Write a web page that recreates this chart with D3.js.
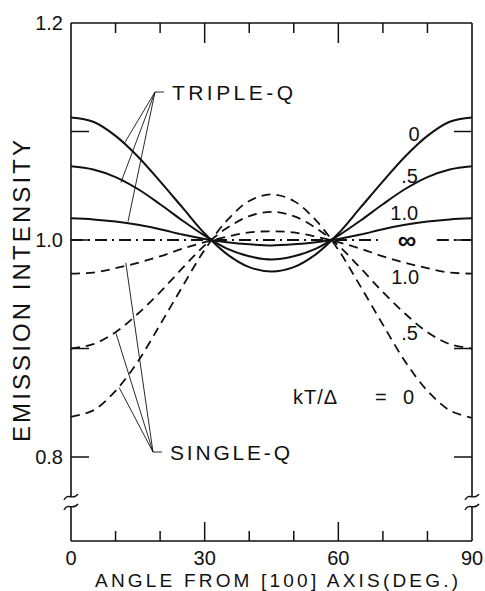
<!DOCTYPE html>
<html><head><meta charset="utf-8">
<script src="https://cdn.jsdelivr.net/npm/d3@7"></script>
<style>body{margin:0;background:#fff}svg{display:block}text{font-family:"Liberation Sans",Arial,sans-serif;fill:#111}</style>
</head><body>
<svg id="c" width="485" height="591"></svg>
<script>
const angles = [0,5,10,15,20,25,30,35,40,45,50,55,60,65,70,75,80,85,90];
const tripleQ0  = [1.113,1.109,1.096,1.077,1.054,1.030,1.006,0.987,0.975,0.971,0.975,0.987,1.006,1.030,1.054,1.077,1.096,1.109,1.113];
const tripleQ05 = [1.068,1.065,1.058,1.047,1.033,1.018,1.004,0.992,0.985,0.982,0.985,0.992,1.004,1.018,1.033,1.047,1.058,1.065,1.068];
const tripleQ10 = [1.020,1.019,1.017,1.014,1.010,1.005,1.001,0.998,0.996,0.995,0.996,0.998,1.001,1.005,1.010,1.014,1.017,1.019,1.020];
const singleQ0  = [0.837,0.843,0.861,0.888,0.922,0.957,0.991,1.018,1.036,1.042,1.036,1.018,0.991,0.957,0.922,0.888,0.861,0.843,0.836];
const singleQ05 = [0.900,0.904,0.915,0.932,0.952,0.974,0.995,1.011,1.022,1.026,1.022,1.011,0.995,0.974,0.952,0.932,0.915,0.904,0.900];
const singleQ10 = [0.969,0.970,0.974,0.979,0.985,0.992,0.998,1.003,1.007,1.008,1.007,1.003,0.998,0.992,0.985,0.979,0.974,0.970,0.969];
const infinitySegments = [[0,69.3],[82.1,90]];
const infinityValue = 1.0;
const xTickLabels = [0,30,60,90];
const xMinorTicks = [10,20,40,50,70,80];
const xMajorTicks = [30,60];
const yTickLabels = [0.8,1.0,1.2];
const yTicks = [0.8,0.9,1.0,1.1];
const yBreak = [0.7539,0.7631];
// curve labels: [angle, value, text]
const curveLabels = [[77.0,1.098,"0"],[76.0,1.059,".5"],[74.8,1.025,"1.0"],[75.4,1.0,"∞"],[75.0,0.9665,"1.0"],[76.0,0.9143,".5"]];
const legendParts = [[293,"kT/Δ",44],[375,"=",null],[403,"0",null]];
const tripleVertex = [18.85,1.1364];
const tripleTargets = [[12.1,1.090],[11.2,1.053],[12.8,1.017]];
const singleVertex = [18.4,0.8046];
const singleTargets = [[12.3,0.979],[10.1,0.914],[10.8,0.864]];

const svg = d3.select("#c");
const L=71, R=472, T=23, B=541;
const x = d3.scaleLinear().domain([0,90]).range([L,R]);
const y = d3.scaleLinear().domain([0.8-(B-457)/1085,1.2]).range([B,T]);

const line = d3.line().x((d,i)=>x(angles[i])).y(d=>y(d)).curve(d3.curveCatmullRom.alpha(0.5));
const solid = [tripleQ0,tripleQ05,tripleQ10];
const dashed = [singleQ0,singleQ05,singleQ10];
svg.append("g").selectAll("path").data(solid).join("path")
  .attr("d",line).attr("fill","none").attr("stroke","#111").attr("stroke-width",2);
svg.append("g").selectAll("path").data(dashed).join("path")
  .attr("d",line).attr("fill","none").attr("stroke","#111").attr("stroke-width",1.8).attr("stroke-dasharray","9,6");
svg.append("g").selectAll("line").data(infinitySegments).join("line")
  .attr("x1",d=>x(d[0])).attr("x2",d=>x(d[1])).attr("y1",y(infinityValue)).attr("y2",y(infinityValue))
  .attr("stroke","#111").attr("stroke-width",1.8).attr("stroke-dasharray","12,5,2,5");

// frame
const fr = svg.append("g").attr("stroke","#111").attr("stroke-width",1.6).attr("fill","none");
fr.append("line").attr("x1",L).attr("x2",R).attr("y1",T).attr("y2",T);
fr.append("line").attr("x1",L).attr("x2",R).attr("y1",B).attr("y2",B);
[L,R].forEach(xx=>{
  fr.append("line").attr("x1",xx).attr("x2",xx).attr("y1",T).attr("y2",y(yBreak[1]));
  fr.append("line").attr("x1",xx).attr("x2",xx).attr("y1",y(yBreak[0])).attr("y2",B);
  yBreak.forEach(v=>{
    const yy=y(v);
    fr.append("path").attr("d",`M${xx-7},${yy+3} C${xx-3},${yy-5} ${xx+2},${yy+4} ${xx+7},${yy-3}`).attr("stroke-width",1.4);
  });
});
// ticks
const tk = svg.append("g").attr("stroke","#111").attr("stroke-width",1.5);
xMinorTicks.forEach(t=>{
  tk.append("line").attr("x1",x(t)).attr("x2",x(t)).attr("y1",T).attr("y2",T+10);
  tk.append("line").attr("x1",x(t)).attr("x2",x(t)).attr("y1",B).attr("y2",B-10);
});
xMajorTicks.forEach(t=>{
  tk.append("line").attr("x1",x(t)).attr("x2",x(t)).attr("y1",T).attr("y2",T+20);
  tk.append("line").attr("x1",x(t)).attr("x2",x(t)).attr("y1",B).attr("y2",B-19);
});
yTicks.forEach(t=>{
  tk.append("line").attr("x1",L).attr("x2",L+18).attr("y1",y(t)).attr("y2",y(t));
  tk.append("line").attr("x1",R).attr("x2",R-18).attr("y1",y(t)).attr("y2",y(t));
});
// tick labels
svg.append("g").selectAll("text").data(yTickLabels).join("text")
  .attr("x",L-8).attr("y",d=>y(d)).attr("dy","0.36em").attr("text-anchor","end")
  .attr("font-size",20).text(d=>d.toFixed(1));
svg.append("g").selectAll("text").data(xTickLabels).join("text")
  .attr("x",d=>x(d)).attr("y",565).attr("text-anchor","middle")
  .attr("font-size",20).text(d=>d);
svg.append("text").attr("x",95).attr("y",587).attr("font-size",19)
  .attr("textLength",363).attr("lengthAdjust","spacing").text("ANGLE FROM [100] AXIS(DEG.)");
svg.append("text").attr("transform","translate(30,291) rotate(-90)").attr("text-anchor","middle")
  .attr("font-size",24).attr("textLength",302).attr("lengthAdjust","spacing").text("EMISSION INTENSITY");

// curve labels
svg.append("g").selectAll("text").data(curveLabels).join("text")
  .attr("x",d=>x(d[0])).attr("y",d=>y(d[1])).attr("dy","0.36em").attr("text-anchor","middle")
  .attr("font-size",d=>d[2]==="∞"?26:20).attr("font-weight",d=>d[2]==="∞"?"bold":null).text(d=>d[2]);
svg.append("g").selectAll("text").data(legendParts).join("text")
  .attr("x",d=>d[0]).attr("y",404).attr("font-size",20)
  .attr("textLength",d=>d[2]).attr("lengthAdjust","spacing").text(d=>d[1]);

// annotations
const ann = svg.append("g").attr("stroke","#111").attr("stroke-width",0.9).attr("fill","none");
function annotate(v,targets,label,len){
  const vx=x(v[0]), vy=y(v[1]);
  targets.forEach(t=>ann.append("line").attr("x1",vx).attr("y1",vy).attr("x2",x(t[0])).attr("y2",y(t[1])));
  ann.append("line").attr("x1",vx).attr("y1",vy).attr("x2",vx+9).attr("y2",vy);
  svg.append("text").attr("x",vx+17).attr("y",vy).attr("dy","0.36em").attr("font-size",21)
    .attr("textLength",len).attr("lengthAdjust","spacing").text(label);
}
annotate(tripleVertex,tripleTargets,"TRIPLE-Q",121);
annotate(singleVertex,singleTargets,"SINGLE-Q",120);
</script>
</body></html>
